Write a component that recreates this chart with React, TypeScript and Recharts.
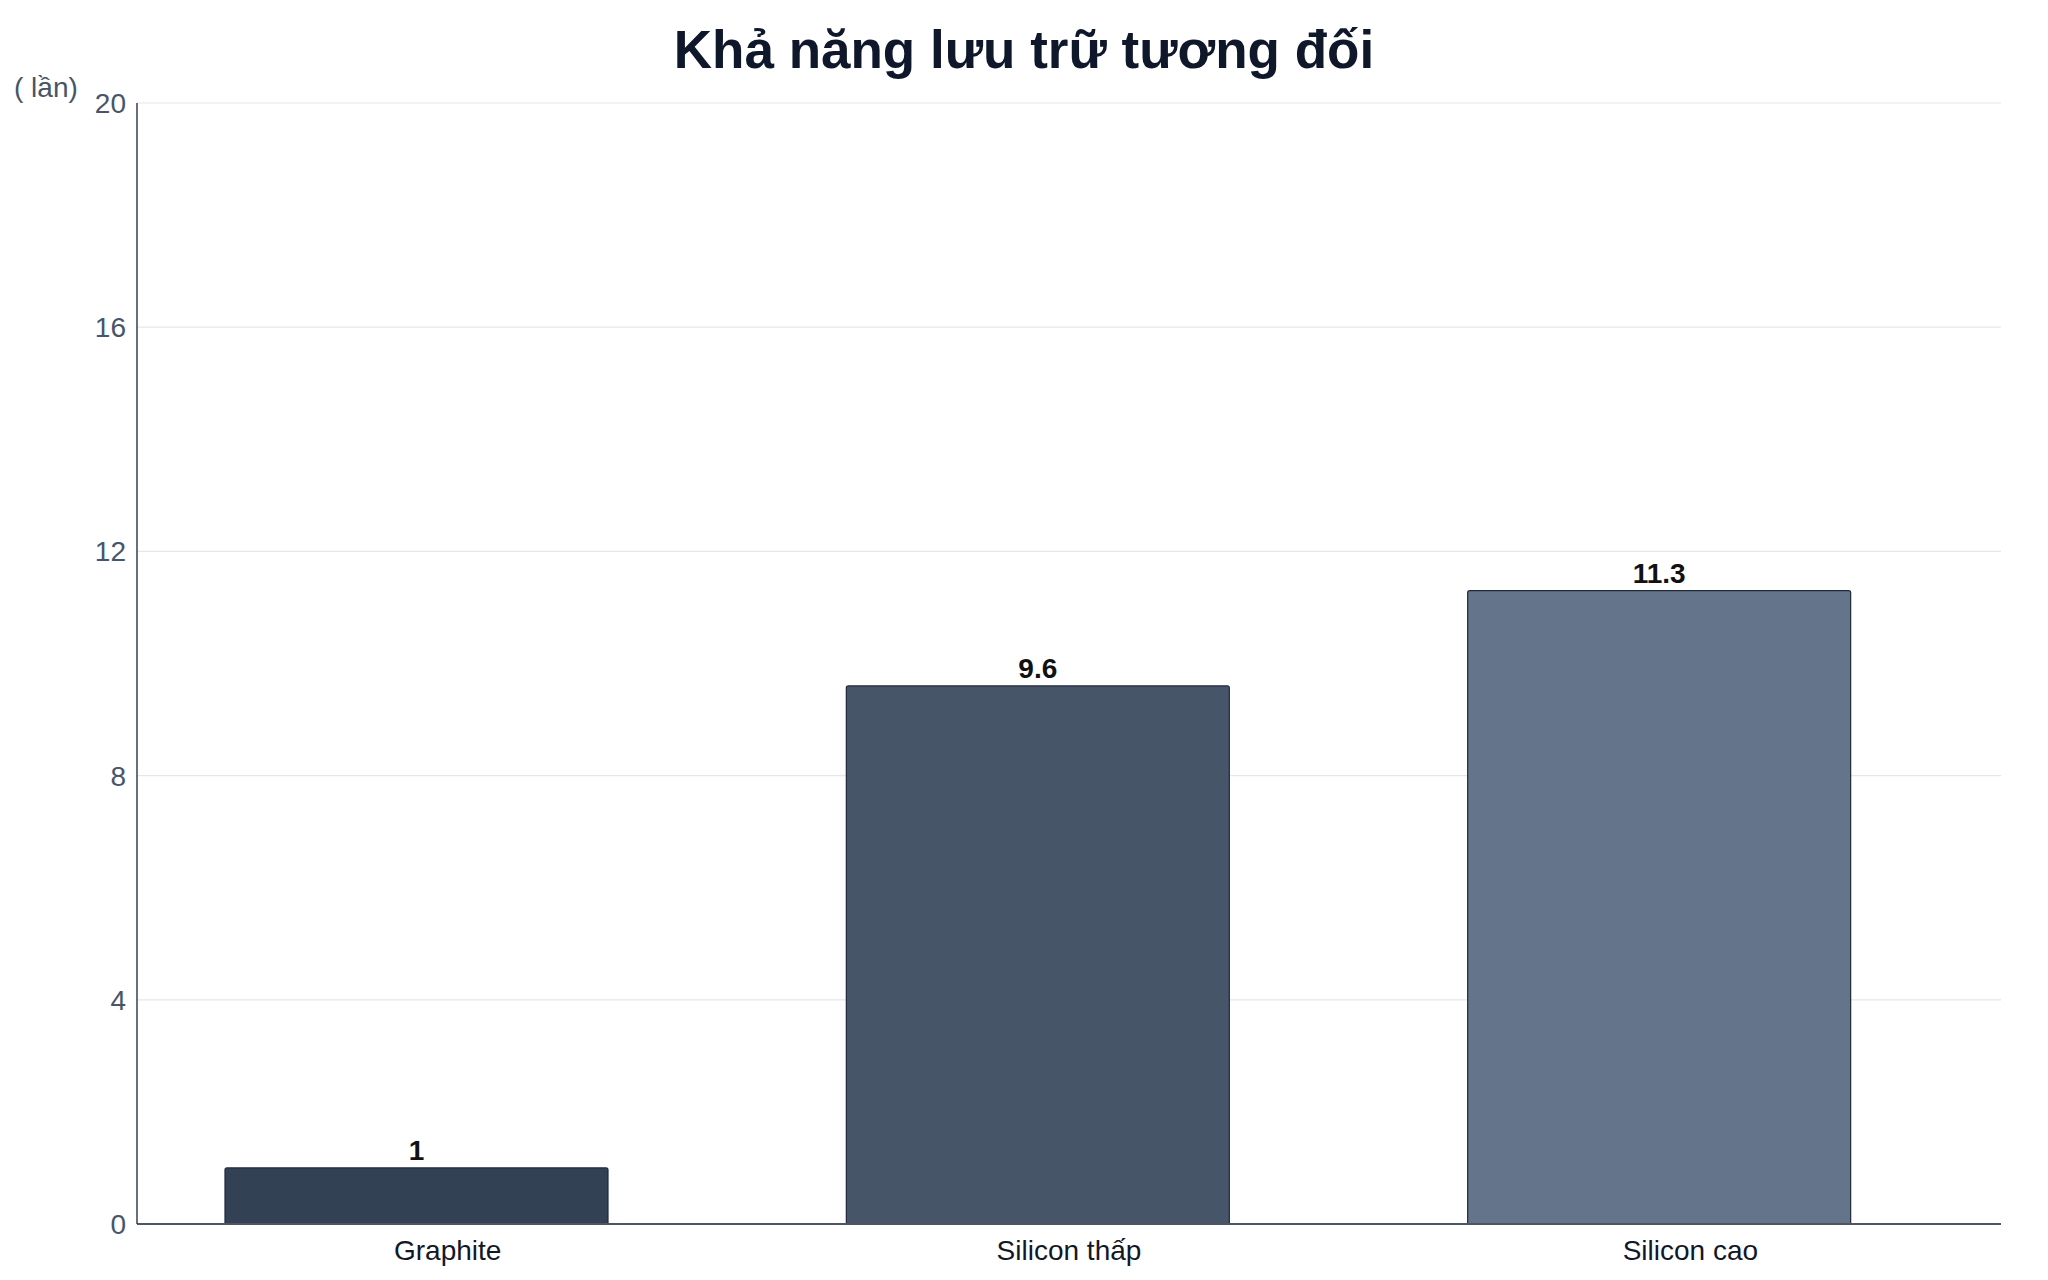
import { BarChart, Bar, XAxis, YAxis, CartesianGrid, Cell, Rectangle } from "recharts";

const categories = ["Graphite", "Silicon thấp", "Silicon cao"];
const values = [1, 9.6, 11.3];
const yTicks = [0, 4, 8, 12, 16, 20];
const barColors = ["#334155", "#475569", "#64748b"];

const FONT = '"Liberation Sans", Arial, sans-serif';
// bars sit a bit left of the category centre in the original
const BAR_SHIFT = -31;

const data = categories.map((name, i) => ({ name, value: values[i] }));

function ShiftedBar(props: any) {
  const { x, y, width, height, fill } = props;
  return (
    <Rectangle
      x={x + BAR_SHIFT}
      y={y}
      width={width}
      height={height}
      fill={fill}
      stroke="#1e293b"
      strokeWidth={1.2}
      radius={[2, 2, 0, 0]}
    />
  );
}

function ValueLabel(props: any) {
  const { x, y, width, value } = props;
  return (
    <text
      x={x + width / 2 + BAR_SHIFT}
      y={y - 8}
      textAnchor="middle"
      fontFamily={FONT}
      fontSize={28}
      fontWeight={700}
      fill="#111111"
    >
      {value}
    </text>
  );
}

export default function App() {
  return (
    <div
      style={{
        position: "fixed",
        top: 0,
        left: 0,
        width: 2048,
        height: 1280,
        background: "#ffffff",
        fontFamily: FONT,
      }}
    >
      <div
        style={{
          position: "absolute",
          top: 18,
          left: 0,
          width: 2048,
          textAlign: "center",
          fontSize: 53,
          fontWeight: 700,
          color: "#0f172a",
          lineHeight: "64px",
        }}
      >
        Khả năng lưu trữ tương đối
      </div>
      <div
        style={{
          position: "absolute",
          top: 71,
          left: 14,
          fontSize: 28,
          color: "#475569",
          lineHeight: "34px",
        }}
      >
        ( lần)
      </div>
      <div style={{ position: "absolute", top: 0, left: 0 }}>
        <BarChart
          width={2048}
          height={1280}
          data={data}
          margin={{ top: 103, right: 47, bottom: 26, left: 77 }}
        >
          <CartesianGrid vertical={false} stroke="#e5e7eb" strokeWidth={1.2} />
          <XAxis
            dataKey="name"
            height={30}
            tickLine={false}
            tickSize={0}
            tickMargin={16}
            axisLine={{ stroke: "#4b5563", strokeWidth: 2 }}
            tick={{ fontSize: 28, fill: "#111827", fontFamily: FONT }}
          />
          <YAxis
            width={60}
            domain={[0, 20]}
            ticks={yTicks}
            tickLine={false}
            tickSize={0}
            tickMargin={11}
            axisLine={{ stroke: "#334155", strokeWidth: 1.5 }}
            tick={{ fontSize: 28, fill: "#475569", fontFamily: FONT }}
          />
          <Bar
            dataKey="value"
            barSize={383}
            shape={ShiftedBar}
            label={ValueLabel}
            isAnimationActive={false}
          >
            {data.map((d, i) => (
              <Cell key={d.name} fill={barColors[i]} />
            ))}
          </Bar>
        </BarChart>
      </div>
    </div>
  );
}
